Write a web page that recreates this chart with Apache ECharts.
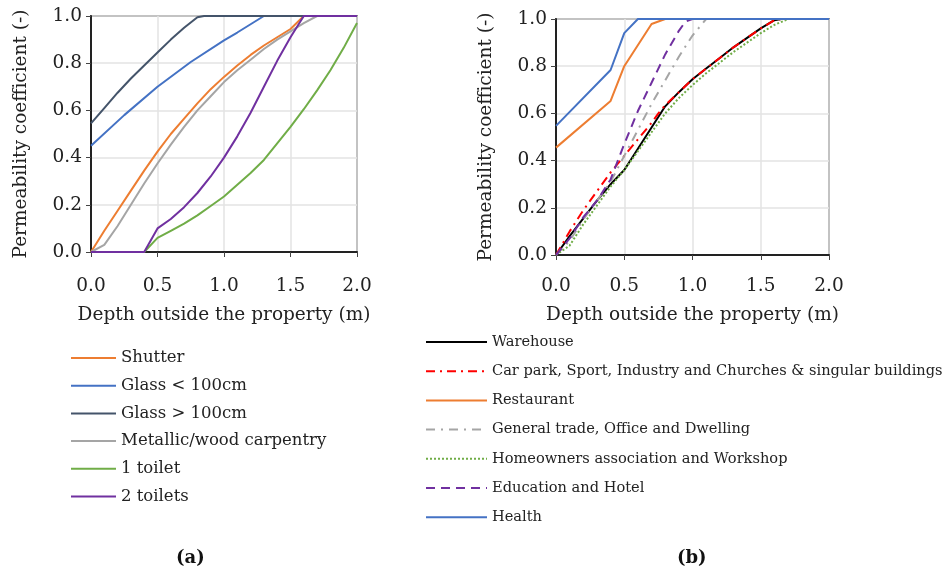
<!DOCTYPE html>
<html>
<head>
<meta charset="utf-8">
<script src="https://cdn.jsdelivr.net/npm/echarts@6/dist/echarts.min.js"></script>
<style>
  html, body { margin: 0; padding: 0; background: #fff; }
  #main { width: 942px; height: 575px; }
</style>
</head>
<body>
<div id="main"></div>
<script>
// (a) element types
var shutterX = [0, 0.1, 0.2, 0.3, 0.4, 0.5, 0.6, 0.7, 0.8, 0.9, 1.0, 1.1, 1.2, 1.3, 1.4, 1.5, 1.6, 2.0];
var shutterY = [0, 0.09, 0.175, 0.26, 0.345, 0.425, 0.5, 0.565, 0.63, 0.69, 0.742, 0.79, 0.835, 0.875, 0.91, 0.945, 1.0, 1.0];
var glassSmallX = [0, 0.25, 0.5, 0.75, 1.0, 1.1, 1.2, 1.3, 2.0];
var glassSmallY = [0.45, 0.58, 0.70, 0.805, 0.897, 0.93, 0.965, 1.0, 1.0];
var glassBigX = [0, 0.1, 0.2, 0.3, 0.4, 0.5, 0.6, 0.7, 0.8, 0.85, 2.0];
var glassBigY = [0.545, 0.61, 0.675, 0.735, 0.79, 0.845, 0.9, 0.95, 0.995, 1.0, 1.0];
var carpentryX = [0, 0.1, 0.2, 0.3, 0.4, 0.5, 0.6, 0.7, 0.8, 0.9, 1.0, 1.1, 1.2, 1.3, 1.4, 1.5, 1.6, 1.7, 2.0];
var carpentryY = [0, 0.03, 0.11, 0.2, 0.29, 0.375, 0.455, 0.53, 0.6, 0.66, 0.72, 0.77, 0.815, 0.86, 0.9, 0.935, 0.97, 1.0, 1.0];
var toilet1X = [0, 0.4, 0.5, 0.6, 0.7, 0.8, 0.9, 1.0, 1.1, 1.2, 1.3, 1.4, 1.5, 1.6, 1.7, 1.8, 1.9, 2.0];
var toilet1Y = [0, 0, 0.06, 0.09, 0.12, 0.155, 0.195, 0.235, 0.285, 0.335, 0.39, 0.46, 0.53, 0.605, 0.685, 0.77, 0.865, 0.97];
var toilet2X = [0, 0.4, 0.5, 0.6, 0.7, 0.8, 0.9, 1.0, 1.1, 1.2, 1.3, 1.4, 1.5, 1.6, 2.0];
var toilet2Y = [0, 0, 0.1, 0.14, 0.19, 0.25, 0.32, 0.4, 0.49, 0.59, 0.7, 0.81, 0.91, 1.0, 1.0];

// (b) building uses
var warehouseX = [0, 0.1, 0.2, 0.3, 0.4, 0.5, 0.6, 0.7, 0.8, 0.9, 1.0, 1.1, 1.2, 1.3, 1.4, 1.5, 1.6, 1.65, 2.0];
var warehouseY = [0, 0.08, 0.155, 0.23, 0.3, 0.36, 0.45, 0.54, 0.63, 0.69, 0.745, 0.79, 0.835, 0.88, 0.92, 0.96, 0.995, 1.0, 1.0];
var carParkX = [0, 0.1, 0.2, 0.3, 0.4, 0.5, 0.6, 0.7, 0.75, 0.8, 0.9, 1.0, 1.1, 1.2, 1.3, 1.4, 1.5, 1.6, 1.65, 2.0];
var carParkY = [0, 0.1, 0.19, 0.27, 0.35, 0.42, 0.49, 0.56, 0.6, 0.635, 0.69, 0.745, 0.79, 0.835, 0.88, 0.92, 0.96, 0.995, 1.0, 1.0];
var restaurantX = [0, 0.4, 0.5, 0.7, 0.8, 2.0];
var restaurantY = [0.455, 0.653, 0.8, 0.979, 1.0, 1.0];
var tradeX = [0, 0.1, 0.2, 0.3, 0.4, 0.5, 0.6, 0.7, 0.8, 0.9, 1.0, 1.1, 2.0];
var tradeY = [0, 0.06, 0.15, 0.23, 0.31, 0.42, 0.53, 0.64, 0.74, 0.84, 0.93, 1.0, 1.0];
var homeX = [0, 0.1, 0.2, 0.3, 0.4, 0.5, 0.6, 0.7, 0.8, 0.9, 1.0, 1.1, 1.2, 1.3, 1.4, 1.5, 1.6, 1.7, 2.0];
var homeY = [0, 0.04, 0.13, 0.21, 0.29, 0.36, 0.44, 0.52, 0.6, 0.665, 0.72, 0.77, 0.815, 0.86, 0.9, 0.94, 0.975, 1.0, 1.0];
var educationX = [0, 0.1, 0.2, 0.3, 0.4, 0.5, 0.6, 0.7, 0.8, 0.9, 0.95, 1.0, 2.0];
var educationY = [0, 0.07, 0.16, 0.23, 0.32, 0.47, 0.61, 0.73, 0.85, 0.95, 0.99, 1.0, 1.0];
var healthX = [0, 0.4, 0.5, 0.6, 2.0];
var healthY = [0.547, 0.784, 0.94, 1.0, 1.0];

var namesA = ['Shutter', 'Glass < 100cm', 'Glass > 100cm', 'Metallic/wood carpentry', '1 toilet', '2 toilets'];
var namesB = ['Warehouse', 'Car park, Sport, Industry and Churches & singular buildings', 'Restaurant',
    'General trade, Office and Dwelling', 'Homeowners association and Workshop', 'Education and Hotel', 'Health'];

var FONT = 'DejaVu Serif';

function pairs(xs, ys) {
    var out = [];
    for (var i = 0; i < xs.length; i++) out.push([xs[i], ys[i]]);
    return out;
}

function mkLine(name, idx, xs, ys, color, type) {
    return {
        name: name,
        type: 'line',
        xAxisIndex: idx,
        yAxisIndex: idx,
        data: pairs(xs, ys),
        symbol: 'none',
        showSymbol: false,
        lineStyle: { color: color, width: 2, type: type || 'solid' },
        itemStyle: { color: color },
        emphasis: { disabled: true },
        animation: false
    };
}

function xAxisOpt(idx, labelMargin, gap) {
    return {
        gridIndex: idx,
        type: 'value',
        min: 0, max: 2, interval: 0.5,
        name: 'Depth outside the property (m)',
        nameLocation: 'middle',
        nameGap: gap,
        nameTextStyle: { fontFamily: FONT, fontSize: 18.5, color: '#222' },
        axisLine: { show: true, lineStyle: { color: '#222', width: 2 } },
        axisTick: { show: true, length: 5, lineStyle: { color: '#444' } },
        axisLabel: { fontFamily: FONT, fontSize: 18.5, color: '#222', margin: labelMargin,
            formatter: function (v) { return v.toFixed(1); } },
        splitLine: { show: true, lineStyle: { color: '#e3e3e3', width: 1.5 } }
    };
}

function yAxisOpt(idx) {
    return {
        gridIndex: idx,
        type: 'value',
        min: 0, max: 1, interval: 0.2,
        name: 'Permeability coefficient (-)',
        nameLocation: 'middle',
        nameGap: 60,
        nameTextStyle: { fontFamily: FONT, fontSize: 18.5, color: '#222' },
        axisLine: { show: true, lineStyle: { color: '#222', width: 2 } },
        axisTick: { show: true, inside: false, length: 5, lineStyle: { color: '#444' } },
        axisLabel: { fontFamily: FONT, fontSize: 18.5, color: '#222', margin: 9,
            formatter: function (v) { return v.toFixed(1); } },
        splitLine: { show: true, lineStyle: { color: '#e3e3e3', width: 1.5 } }
    };
}

var myChart = echarts.init(document.getElementById('main'), null, { renderer: 'canvas' });

var option = {
    backgroundColor: '#fff',
    animation: false,
    grid: [
        { left: 91, top: 16, width: 266, height: 236, show: true, borderColor: '#333', borderWidth: 1.5, backgroundColor: 'transparent' },
        { left: 556, top: 19, width: 273, height: 236, show: true, borderColor: '#333', borderWidth: 1.5, backgroundColor: 'transparent' }
    ],
    xAxis: [xAxisOpt(0, 25, 54), xAxisOpt(1, 22, 51)],
    yAxis: [yAxisOpt(0), yAxisOpt(1)],
    legend: [
        {
            data: namesA,
            orient: 'vertical',
            left: 70, top: 349,
            padding: 0,
            itemWidth: 45, itemHeight: 14,
            itemGap: 9.7,
            selectedMode: false,
            itemStyle: { opacity: 0 },
            textStyle: { fontFamily: FONT, fontSize: 16.5, color: '#222', lineHeight: 18 }
        },
        {
            data: namesB,
            orient: 'vertical',
            left: 425, top: 333,
            padding: 0,
            itemWidth: 61, itemHeight: 14,
            itemGap: 11.2,
            selectedMode: false,
            itemStyle: { opacity: 0 },
            textStyle: { fontFamily: FONT, fontSize: 14.6, color: '#222', lineHeight: 18 }
        }
    ],
    graphic: [
        { type: 'text', left: 176, top: 549, style: { text: '(a)', font: 'bold 18px "DejaVu Serif"', fill: '#111' } },
        { type: 'text', left: 677, top: 549, style: { text: '(b)', font: 'bold 18px "DejaVu Serif"', fill: '#111' } }
    ],
    series: [
        mkLine(namesA[0], 0, shutterX, shutterY, '#ed7d31'),
        mkLine(namesA[1], 0, glassSmallX, glassSmallY, '#4472c4'),
        mkLine(namesA[2], 0, glassBigX, glassBigY, '#44546a'),
        mkLine(namesA[3], 0, carpentryX, carpentryY, '#a5a5a5'),
        mkLine(namesA[4], 0, toilet1X, toilet1Y, '#70ad47'),
        mkLine(namesA[5], 0, toilet2X, toilet2Y, '#7030a0'),

        mkLine(namesB[0], 1, warehouseX, warehouseY, '#000000'),
        mkLine(namesB[1], 1, carParkX, carParkY, '#ff0000', [9, 5, 2, 5]),
        mkLine(namesB[2], 1, restaurantX, restaurantY, '#ed7d31'),
        mkLine(namesB[3], 1, tradeX, tradeY, '#a5a5a5', [9, 6, 2, 6]),
        mkLine(namesB[4], 1, homeX, homeY, '#70ad47', [2, 2]),
        mkLine(namesB[5], 1, educationX, educationY, '#7030a0', [9, 6]),
        mkLine(namesB[6], 1, healthX, healthY, '#4472c4')
    ]
};
myChart.setOption(option);
</script>
</body>
</html>
